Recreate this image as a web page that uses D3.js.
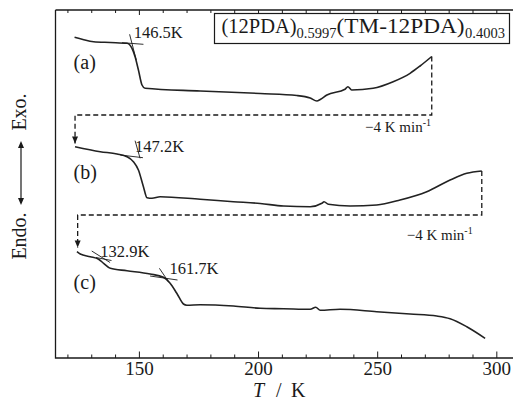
<!DOCTYPE html>
<html><head><meta charset="utf-8">
<script src="https://cdn.jsdelivr.net/npm/d3@7"></script>
<style>body{margin:0;background:#fff}svg{display:block}</style>
</head><body><svg id="c" width="513" height="401"></svg>
<script>
// ---- data (T in K, signal in arbitrary units) ----
const curveA = [[123.0,320.7],[126.5,318.5],[131.0,316.3],[138.0,315.5],[145.0,314.7],[147.1,309.7],[148.4,301.3],[149.8,288],[151.3,273],[152.6,269.7],[175.7,267],[200.9,264.5],[216.3,262.5],[221.9,260],[224.7,257],[226.1,258.5],[228.9,263],[236.5,268.7],[237.7,271.3],[239.3,268],[248.3,269.7],[256.7,276.3],[263.8,284.7],[268.0,292],[272.9,301.5]];
const curveB = [[123.2,211.3],[133.8,206.3],[140.8,204],[145.0,201.3],[147.7,196.3],[149.8,188],[151.9,171.3],[153.4,160.3],[155.5,159.7],[158.9,161.3],[175.7,158.7],[189.7,156.3],[200.9,154.5],[210.7,152],[221.9,151.3],[226.8,154.7],[227.7,156.3],[229.5,153.7],[238.6,152],[249.8,153],[259.6,158],[270.8,166.3],[280.6,178],[287.6,184.7],[293.9,187]];
const curveC = [[124.0,106.3],[125.4,104],[129.6,101.3],[133.1,98.7],[135.2,94.7],[138.0,89.7],[145.0,87.3],[154.7,84],[160.3,80.7],[163.1,74.7],[165.9,64.7],[168.7,54],[170.1,52.7],[175.7,53.3],[189.7,52],[200.9,49.7],[210.7,49.3],[221.9,48.7],[224.2,50.7],[226.1,47.7],[234.4,48.7],[249.8,46.3],[263.8,44],[275.0,42],[280.6,39.3],[287.6,31.3],[295.3,19.7]];
const curves = [curveA, curveB, curveC];
const curveLabels = ["(a)", "(b)", "(c)"];
const curveLabelAt = [[122.6,296.3],[122.6,186.3],[122.6,76.3]];
// cooling runs (dashed)
const coolPaths = [
  [[272.9,301.5],[272.9,243],[123.2,243],[123.2,214.5]],
  [[293.9,187],[293.9,143],[124.3,143],[124.3,110.5]]
];
const rateLabels = ["\u22124 K min", "\u22124 K min"];
const rateLabelAt = [[244.9,226],[262.4,118]];
// tangent construction lines
const tangents = [
  [[142.9,315.3],[151.9,313.7]], [[146.1,323.7],[148.9,298]],
  [[142.2,203],[151.7,200.3]],   [[148.4,217.3],[150.5,199.7]],
  [[130.2,107],[137.9,95.5]],    [[132.0,100.5],[138.5,97.5]],
  [[154.7,82],[166.2,78]],       [[158.6,89.7],[162.4,76.3]]
];
const onsetLabels = ["146.5K", "147.2K", "132.9K", "161.7K"];
const onsetAt = [[147.8,325.3],[148.4,211.3],[133.8,106.3],[162.8,89.7]];
const majorTicks = [150, 200, 250, 300];
const minorTicks = [120,130,140,160,170,180,190,210,220,230,240,260,270,280,290];

// ---- scales ----
const svg = d3.select("#c");
const x = d3.scaleLinear().domain([115, 307]).range([55.5, 513]);
const y = d3.scaleLinear().domain([0, 348]).range([358, 10]);
const serif = "'Liberation Serif','Times New Roman',serif";
const ink = "#1a1a1a";

// ---- axes ----
function tickAxis(axisFn, vals, size, ty) {
  const g = svg.append("g").attr("transform", `translate(0,${ty})`)
    .call(axisFn(x).tickValues(vals).tickSize(size).tickFormat(""));
  g.select(".domain").remove();
  g.selectAll("line").attr("stroke", ink).attr("stroke-width", 1);
  return g;
}
tickAxis(d3.axisBottom, minorTicks, -3.5, 358);
tickAxis(d3.axisBottom, majorTicks, -6.5, 358);
tickAxis(d3.axisTop, minorTicks, -3, 10);
tickAxis(d3.axisTop, majorTicks, -5, 10);
const lab = svg.append("g").attr("transform", "translate(0,358)")
  .call(d3.axisBottom(x).tickValues(majorTicks).tickSize(0).tickPadding(4));
lab.select(".domain").remove();
lab.selectAll("text").attr("font-family", serif).attr("font-size", 19).attr("fill", ink);

svg.append("path").attr("d", `M${x(115)},10V358H513M${x(115)},10H513`)
  .attr("fill", "none").attr("stroke", ink).attr("stroke-width", 1.3);

// x-axis title
const xt = svg.append("text").attr("y", 397).attr("font-family", serif).attr("font-size", 20).attr("fill", ink);
xt.append("tspan").attr("x", 253).attr("font-style", "italic").text("T");
xt.append("tspan").attr("x", 276).text("/");
xt.append("tspan").attr("x", 291).text("K");

// y-axis title
svg.append("text").attr("transform", "translate(26,112) rotate(-90)").attr("text-anchor", "middle")
  .attr("font-family", serif).attr("font-size", 20).attr("fill", ink).text("Exo.");
svg.append("text").attr("transform", "translate(26,236) rotate(-90)").attr("text-anchor", "middle")
  .attr("font-family", serif).attr("font-size", 20).attr("fill", ink).text("Endo.");
svg.append("line").attr("x1", 21).attr("x2", 21).attr("y1", 144).attr("y2", 202).attr("stroke", ink).attr("stroke-width", 1.2);
svg.append("path").attr("d", "M21,141l-3,7h6zM21,205l-3,-7h6z").attr("fill", ink);

// ---- curves ----
const line = d3.line().x(d => x(d[0])).y(d => y(d[1])).curve(d3.curveMonotoneX);
svg.selectAll(".crv").data(curves).enter().append("path").attr("class", "crv")
  .attr("d", line).attr("fill", "none").attr("stroke", "#222").attr("stroke-width", 1.6).attr("stroke-linejoin", "round");

const lin = d3.line().x(d => x(d[0])).y(d => y(d[1]));
svg.selectAll(".cool").data(coolPaths).enter().append("path").attr("class", "cool")
  .attr("d", lin).attr("fill", "none").attr("stroke", ink).attr("stroke-width", 1.3).attr("stroke-dasharray", "5,3");
coolPaths.forEach(p => {
  const t = p[p.length - 1];
  svg.append("path").attr("d", `M${x(t[0])},${y(t[1])}l-3,-7h6z`).attr("fill", ink);
});
svg.selectAll(".rate").data(rateLabels).enter().append("text")
  .attr("x", (d, i) => x(rateLabelAt[i][0])).attr("y", (d, i) => y(rateLabelAt[i][1]))
  .attr("font-family", serif).attr("font-size", 15).attr("fill", ink)
  .each(function(d) {
    d3.select(this).append("tspan").text(d);
    d3.select(this).append("tspan").attr("dy", -6).attr("font-size", 10).text("-1");
  });

svg.selectAll(".tan").data(tangents).enter().append("path").attr("class", "tan")
  .attr("d", lin).attr("stroke", ink).attr("stroke-width", 0.9);

svg.selectAll(".onset").data(onsetLabels).enter().append("text")
  .attr("x", (d, i) => x(onsetAt[i][0])).attr("y", (d, i) => y(onsetAt[i][1]))
  .attr("dy", "0.35em").attr("font-family", serif).attr("font-size", 16.5).attr("fill", ink).text(d => d);

svg.selectAll(".clab").data(curveLabels).enter().append("text")
  .attr("x", (d, i) => x(curveLabelAt[i][0])).attr("y", (d, i) => y(curveLabelAt[i][1]))
  .attr("dy", "0.35em").attr("font-family", serif).attr("font-size", 20).attr("fill", ink).text(d => d);

// ---- title box ----
svg.append("rect").attr("x", 214.5).attr("y", 13.5).attr("width", 295).attr("height", 30)
  .attr("fill", "#fff").attr("stroke", ink).attr("stroke-width", 1.2);
const tt = svg.append("text").attr("y", 33).attr("font-family", serif).attr("font-size", 20.5).attr("fill", ink);
tt.append("tspan").attr("x", 221.5).text("(12PDA)");
tt.append("tspan").attr("x", 296.5).attr("dy", 5).attr("font-size", 14.5).text("0.5997");
tt.append("tspan").attr("x", 336.5).attr("dy", -5).attr("textLength", 128).attr("lengthAdjust", "spacingAndGlyphs").text("(TM-12PDA)");
tt.append("tspan").attr("x", 465).attr("dy", 5).attr("font-size", 14.5).text("0.4003");
</script></body></html>
